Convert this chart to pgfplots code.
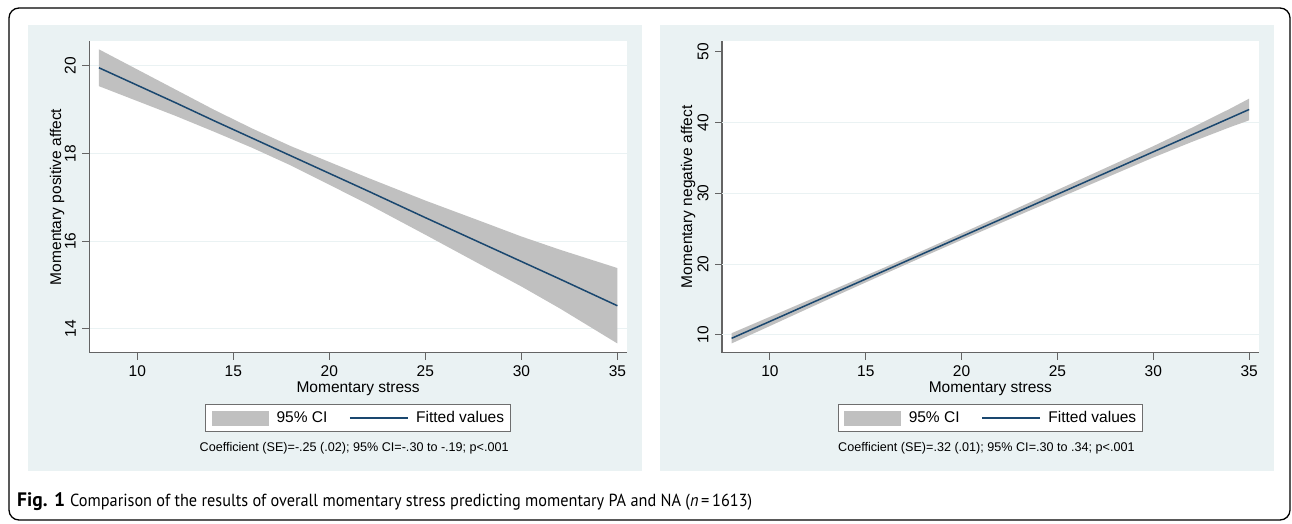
\documentclass[border=0pt]{standalone}
\usepackage{graphicx}
\usepackage{fontspec}
\setmainfont{Liberation Sans}
\newfontfamily\capfont{PT Sans}
\usepackage{pgfplots}
\pgfplotsset{compat=1.18}
\definecolor{panelbg}{RGB}{234,242,243}
\definecolor{gridc}{RGB}{234,242,243}
\definecolor{cigray}{RGB}{192,192,192}
\definecolor{fitnavy}{RGB}{26,71,111}
\definecolor{axgray}{RGB}{100,100,100}
\definecolor{leggray}{RGB}{110,110,110}
\newcommand\tickfont{\fontsize{15.5}{18}\selectfont}
\newcommand\coeffont{\fontsize{12.6}{15}\selectfont}

% fitted values
\pgfplotstableread{
x   fit
8   19.96
10  19.56
12  19.16
14  18.75
16  18.35
18  17.95
20  17.55
22  17.15
25  16.54
28  15.94
30  15.54
32  15.14
35  14.53
}\pafit
% 95% CI band: upper limit left to right, then lower limit right to left
\pgfplotstableread{
x   y
8   20.38
10  19.92
12  19.46
14  19.00
16  18.57
18  18.17
20  17.81
22  17.45
25  16.93
28  16.44
30  16.11
32  15.81
35  15.39
35  13.67
32  14.47
30  14.97
28  15.44
25  16.15
22  16.85
20  17.29
18  17.73
16  18.13
14  18.50
12  18.86
10  19.20
8   19.54
}\paci

\pgfplotstableread{
x   fit
8   9.53
10  11.92
12  14.32
14  16.71
16  19.10
18  21.50
20  23.89
22  26.28
25  29.87
28  33.46
30  35.86
32  38.25
34  40.64
35  41.84
}\nafit
\pgfplotstableread{
x   y
8   10.25
10  12.57
12  14.89
14  17.21
16  19.56
18  21.95
20  24.36
22  26.80
25  30.49
28  34.18
30  36.66
32  39.25
34  41.94
35  43.37
35  40.31
34  39.34
32  37.25
30  35.06
28  32.74
25  29.25
22  25.76
20  23.42
18  21.05
16  18.64
14  16.21
12  13.75
10  11.27
8   8.81
}\naci

\pgfplotsset{
  stata/.style={
    scale only axis, anchor=south west,
    height=311.7pt,
    axis lines*=left,
    axis line style={draw=axgray, line width=1.1pt},
    axis background/.style={fill=white},
    xmin=7.5, xmax=35.5,
    xtick={10,15,...,35},
    tick align=outside,
    major tick length=7pt,
    major tick style={draw=axgray, line width=1pt},
    tick label style={font=\tickfont},
    /pgf/number format/assume math mode=true,
    xticklabel style={anchor=north, inner sep=0pt},
    xticklabel shift=6pt,
    yticklabel style={rotate=90, anchor=south, inner sep=0pt},
    yticklabel shift=6.3pt,
    xlabel={Momentary stress},
    xlabel style={font=\tickfont, at={(axis description cs:0.5,0)}, anchor=base, yshift=-39.3pt},
    major grid style={draw=gridc, line width=1pt},
    legend columns=2,
    legend style={at={(0.5,-0.1646)}, anchor=north, draw=leggray, line width=0.9pt,
      fill=white, font=\tickfont, inner xsep=4.5pt, inner ysep=5.3pt,
      /tikz/every odd column/.append style={column sep=5.5pt},
      /tikz/every even column/.append style={column sep=19.8pt}},
  },
  cistyle/.style={fill=cigray, draw=none,
    legend image code/.code={\path (-1.5pt,0pt); \fill[cigray] (0pt,-7.5pt) rectangle (57.3pt,7.5pt);}},
  fitstyle/.style={draw=fitnavy, line width=1.5pt, mark=none,
    legend image code/.code={\draw[fitnavy, line width=1.5pt] (0pt,0pt) -- (58pt,0pt);}},
}

\begin{document}
\begin{tikzpicture}
\path (0pt,0pt) rectangle (1292pt,523pt);
\draw[line width=1.3pt, rounded corners=10pt] (9pt,3pt) rectangle (1290pt,515pt);
\fill[panelbg] (28pt,52.3pt) rectangle (642pt,498pt);
\fill[panelbg] (660pt,52.3pt) rectangle (1274.3pt,498pt);

\begin{axis}[stata, name=A, at={(89.3pt,170.3pt)}, width=537.7pt,
  ymin=13.459, ymax=20.57, ytick={14,16,18,20}, ymajorgrids,
  ylabel={Momentary positive affect},
  ylabel style={font=\tickfont, at={(axis description cs:-0.0525,0.5)}, anchor=base}]
  \addplot[cistyle] table[x=x, y=y] {\paci} -- cycle;
  \addlegendentry{95\% CI}
  \addplot[fitstyle] table[x=x, y=fit] {\pafit};
  \addlegendentry{Fitted values}
\end{axis}
\node[font=\coeffont, anchor=base] at ([xshift=-4pt, yshift=-99pt]A.south)
  {Coefficient (SE)=-.25 (.02); 95\% CI=-.30 to -.19; p<.001};

\begin{axis}[stata, name=B, at={(722pt,170.3pt)}, width=536.7pt,
  ymin=7.5, ymax=51.51, ytick={10,20,30,40,50},
  extra y ticks={10,20,30,40}, extra y tick labels={},
  extra y tick style={grid=major, major tick length=0pt},
  ylabel={Momentary negative affect},
  ylabel style={font=\tickfont, at={(axis description cs:-0.0559,0.5)}, anchor=base}]
  \addplot[cistyle] table[x=x, y=y] {\naci} -- cycle;
  \addlegendentry{95\% CI}
  \addplot[fitstyle] table[x=x, y=fit] {\nafit};
  \addlegendentry{Fitted values}
\end{axis}
\node[font=\coeffont, anchor=base] at ([xshift=-4pt, yshift=-99pt]B.south)
  {Coefficient (SE)=.32 (.01); 95\% CI=.30 to .34; p<.001};

\node[anchor=base west, inner sep=0pt] at (17pt,17pt)
  {\capfont\fontsize{19.5}{22}\selectfont\textbf{Fig. 1}};
\node[anchor=base west, inner sep=0pt] at (70pt,17pt)
  {\resizebox{682pt}{\height}{\capfont\fontsize{17.5}{20}\selectfont Comparison of the results of overall momentary stress predicting momentary PA and NA (\textit{n}\,=\,1613)}};
\end{tikzpicture}
\end{document}
